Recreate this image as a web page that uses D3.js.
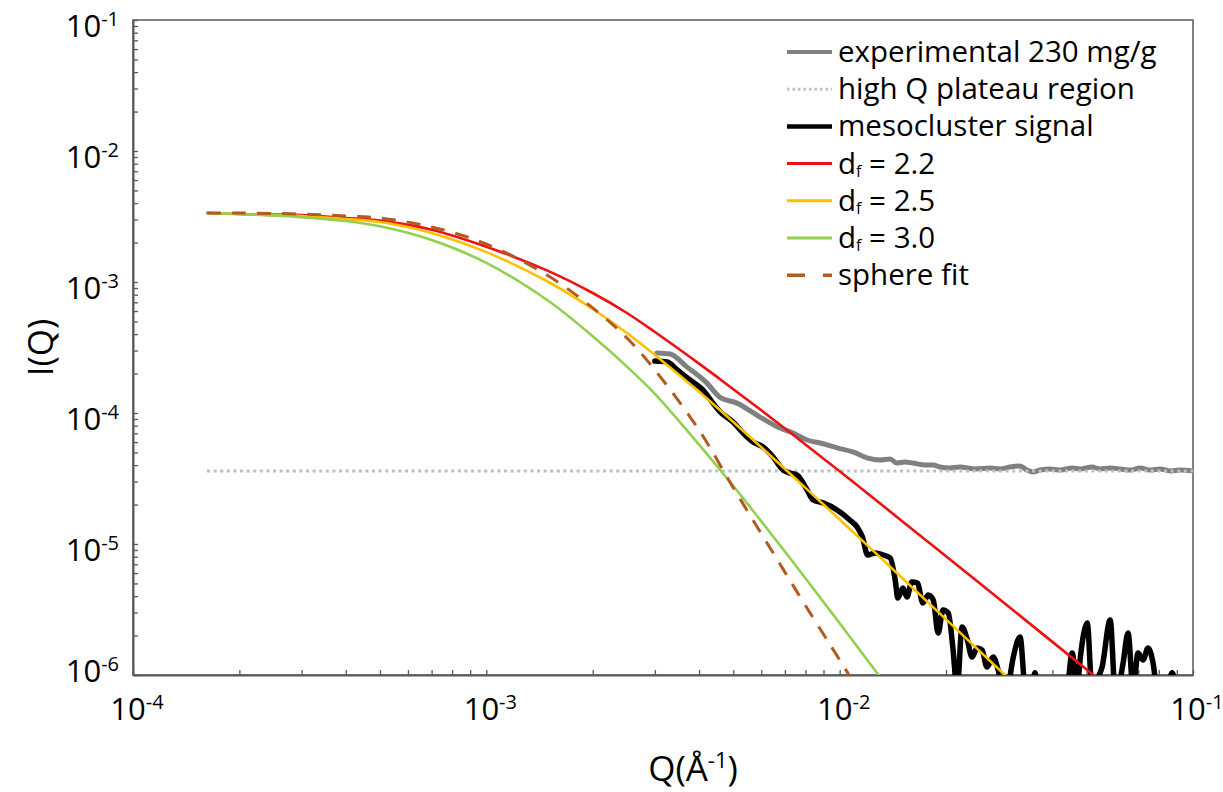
<!DOCTYPE html>
<html>
<head>
<meta charset="utf-8">
<script src="https://cdn.jsdelivr.net/npm/d3@7"></script>
<style>
    body { margin: 0; background: #fff; }
    svg { font-family: "Open Sans", Lato, sans-serif; }
</style>
</head>
<body>
<svg id="chart" width="1223" height="792"></svg>
<script>
/*************************************** data ***************************/
// [Q (1/A), I(Q)]
let experimental = [
    [3.04e-3, 2.87e-4], [3.31e-3, 2.82e-4], [3.70e-3, 2.24e-4], [4.21e-3, 1.69e-4], [4.58e-3, 1.32e-4],
    [5.12e-3, 1.19e-4], [5.95e-3, 9.31e-5], [6.78e-3, 7.67e-5], [7.38e-3, 7.03e-5], [8.09e-3, 6.22e-5],
    [8.80e-3, 5.90e-5], [9.84e-3, 5.41e-5], [1.09e-2, 5.04e-5], [1.20e-2, 4.53e-5], [1.30e-2, 4.38e-5],
    [1.39e-2, 4.46e-5], [1.45e-2, 4.15e-5], [1.53e-2, 4.23e-5], [1.61e-2, 4.15e-5], [1.75e-2, 4.01e-5],
    [1.84e-2, 4.01e-5], [1.92e-2, 3.87e-5], [2.05e-2, 3.80e-5], [2.19e-2, 3.87e-5], [2.42e-2, 3.74e-5],
    [2.67e-2, 3.80e-5], [2.84e-2, 3.74e-5], [3.04e-2, 3.87e-5], [3.24e-2, 3.94e-5], [3.39e-2, 3.67e-5],
    [3.53e-2, 3.55e-5], [3.69e-2, 3.67e-5], [3.94e-2, 3.74e-5], [4.21e-2, 3.67e-5], [4.55e-2, 3.80e-5],
    [4.79e-2, 3.74e-5], [5.18e-2, 3.87e-5], [5.46e-2, 3.74e-5], [5.83e-2, 3.80e-5], [6.22e-2, 3.74e-5],
    [6.64e-2, 3.67e-5], [7.09e-2, 3.80e-5], [7.57e-2, 3.67e-5], [8.07e-2, 3.74e-5], [8.63e-2, 3.61e-5],
    [9.19e-2, 3.67e-5], [1.00e-1, 3.61e-5]
]
let plateau = [[1.62e-4, 3.6e-5], [1.0e-1, 3.6e-5]]
let mesocluster = [
    [3.00e-3, 2.49e-4], [3.25e-3, 2.45e-4], [3.47e-3, 2.13e-4], [3.77e-3, 1.79e-4], [4.10e-3, 1.50e-4],
    [4.38e-3, 1.19e-4], [4.59e-3, 1.02e-4], [4.99e-3, 8.54e-5], [5.33e-3, 7.04e-5], [5.69e-3, 6.01e-5],
    [6.07e-3, 5.50e-5], [6.48e-3, 4.61e-5], [6.92e-3, 3.67e-5], [7.24e-3, 3.48e-5], [7.58e-3, 3.36e-5],
    [8.09e-3, 2.58e-5], [8.41e-3, 2.17e-5], [8.97e-3, 2.06e-5], [9.83e-3, 1.82e-5], [1.07e-2, 1.52e-5],
    [1.12e-2, 1.35e-5], [1.16e-2, 1.13e-5], [1.20e-2, 8.24e-6], [1.26e-2, 8.54e-6], [1.33e-2, 8.24e-6],
    [1.39e-2, 7.82e-6], [1.44e-2, 5.04e-6], [1.46e-2, 3.87e-6], [1.51e-2, 4.61e-6], [1.55e-2, 3.94e-6],
    [1.60e-2, 5.13e-6], [1.66e-2, 5.04e-6], [1.72e-2, 3.55e-6], [1.78e-2, 4.08e-6], [1.84e-2, 3.74e-6],
    [1.90e-2, 2.09e-6], [1.96e-2, 3.13e-6], [2.03e-2, 2.97e-6], [2.09e-2, 1.64e-6], [2.15e-2, 7.7e-7],
    [2.22e-2, 2.32e-6], [2.29e-2, 1.92e-6], [2.37e-2, 1.37e-6], [2.45e-2, 1.61e-6], [2.53e-2, 1.55e-6],
    [2.61e-2, 1.15e-6], [2.72e-2, 1.37e-6], [2.81e-2, 1.09e-6], [2.90e-2, 7.7e-7], [3.00e-2, 8.5e-7],
    [3.10e-2, 1.37e-6], [3.24e-2, 1.95e-6], [3.35e-2, 7.7e-7], [3.46e-2, 6.5e-7], [3.57e-2, 1.04e-6],
    [3.69e-2, 6.5e-7], [3.94e-2, 5.4e-7], [4.21e-2, 6.5e-7], [4.40e-2, 7.7e-7], [4.55e-2, 1.47e-6],
    [4.70e-2, 7.7e-7], [4.79e-2, 1.30e-6], [5.02e-2, 2.49e-6], [5.18e-2, 7.7e-7], [5.35e-2, 9.2e-7],
    [5.53e-2, 1.15e-6], [5.83e-2, 2.63e-6], [6.02e-2, 7.7e-7], [6.22e-2, 9.2e-7], [6.34e-2, 1.23e-6],
    [6.55e-2, 2.09e-6], [6.77e-2, 7.7e-7], [6.99e-2, 1.47e-6], [7.22e-2, 1.30e-6], [7.46e-2, 1.61e-6],
    [7.71e-2, 1.23e-6], [7.91e-2, 7.7e-7], [8.34e-2, 6.5e-7], [8.73e-2, 1.04e-6], [9.07e-2, 6.5e-7]
]
let fractal22 = [
    [1.62e-4, 3.36e-3], [2e-4, 3.30e-3], [3e-4, 3.24e-3], [4e-4, 3.08e-3], [5e-4, 2.94e-3], [7e-4, 2.51e-3],
    [1e-3, 1.86e-3], [1.5e-3, 1.21e-3], [2e-3, 8.24e-4], [2.5e-3, 5.80e-4], [3e-3, 4.15e-4], [4e-3, 2.38e-4],
    [5e-3, 1.52e-4], [6e-3, 1.05e-4], [7e-3, 7.62e-5], [8e-3, 5.75e-5], [1e-2, 3.59e-5], [1.2e-2, 2.43e-5],
    [1.5e-2, 1.50e-5], [2e-2, 8.07e-6], [3e-2, 3.35e-6], [4e-2, 1.79e-6], [5e-2, 1.10e-6], [6e-2, 7.38e-7]
]
let fractal25 = [
    [1.62e-4, 3.36e-3], [2e-4, 3.30e-3], [3e-4, 3.19e-3], [4e-4, 3.03e-3], [5e-4, 2.87e-3], [7e-4, 2.37e-3],
    [1e-3, 1.69e-3], [1.5e-3, 1.00e-3], [2e-3, 6.22e-4], [2.5e-3, 4.08e-4], [3e-3, 2.77e-4], [4e-3, 1.45e-4],
    [5e-3, 8.53e-5], [6e-3, 5.47e-5], [7e-3, 3.74e-5], [8e-3, 2.68e-5], [1e-2, 1.54e-5], [1.2e-2, 9.71e-6],
    [1.5e-2, 5.52e-6], [2e-2, 2.66e-6], [3e-2, 9.46e-7]
]
let fractal30 = [
    [1.62e-4, 3.36e-3], [2e-4, 3.30e-3], [3e-4, 3.13e-3], [4e-4, 2.92e-3], [5e-4, 2.66e-3], [7e-4, 2.09e-3],
    [1e-3, 1.40e-3], [1.5e-3, 7.16e-4], [2e-3, 3.85e-4], [2.5e-3, 2.26e-4], [3e-3, 1.40e-4], [4e-3, 5.73e-5],
    [5e-3, 2.77e-5], [6e-3, 1.49e-5], [7e-3, 8.75e-6], [8e-3, 5.48e-6], [1e-2, 2.48e-6], [1.2e-2, 1.29e-6],
    [1.3e-2, 9.66e-7]
]
let sphereFit = [
    [1.62e-4, 3.36e-3], [2e-4, 3.36e-3], [3e-4, 3.30e-3], [4e-4, 3.19e-3], [5e-4, 3.08e-3], [7e-4, 2.63e-3],
    [1e-3, 1.95e-3], [1.5e-3, 1.11e-3], [2e-3, 6.34e-4], [2.5e-3, 3.74e-4], [3e-3, 2.13e-4], [4e-3, 7.41e-5],
    [5e-3, 2.69e-5], [6e-3, 1.20e-5], [7e-3, 6.10e-6], [8e-3, 3.39e-6], [9.4e-3, 1.70e-6], [1.08e-2, 9.33e-7]
]
let xDecades = [-4, -3, -2, -1]
let yDecades = [-6, -5, -4, -3, -2, -1]

/*************************************** series styles ***************************/
let seriesList = [
    { name: "experimental 230 mg/g", data: experimental, color: "#808080", width: 5, legendW: 4, dash: null, curve: d3.curveMonotoneX },
    { name: "high Q plateau region", data: plateau, color: "#bfbfbf", width: 3, legendW: 3, dash: "3,3.6", legendDash: "2.5,3", curve: d3.curveLinear },
    { name: "mesocluster signal", data: mesocluster, color: "#000000", width: 5.5, legendW: 4.5, dash: null, curve: d3.curveMonotoneX },
    { name: "2.2", data: fractal22, color: "#ee1111", width: 2.6, legendW: 3, dash: null, curve: d3.curveCatmullRom, sub: true },
    { name: "2.5", data: fractal25, color: "#ffc000", width: 2.6, legendW: 3, dash: null, curve: d3.curveCatmullRom, sub: true },
    { name: "3.0", data: fractal30, color: "#92d050", width: 2.6, legendW: 3, dash: null, curve: d3.curveCatmullRom, sub: true },
    { name: "sphere fit", data: sphereFit, color: "#b35a1f", width: 3, legendW: 3.5, dash: "14,11", legendDash: "18,18", curve: d3.curveCatmullRom }
]

const axisColor = "#595959"
const margin = { top: 20, right: 30, bottom: 117, left: 133 }
const svgW = 1223, svgH = 792

const svg = d3.select("#chart")

let xScale = d3.scaleLog()
    .domain([1e-4, 1e-1])
    .range([margin.left, svgW - margin.right])
let yScale = d3.scaleLog()
    .domain([1e-6, 1e-1])
    .range([svgH - margin.bottom, margin.top])

function minorTicks(decades) {
    let t = []
    for (let i = 0; i < decades.length - 1; i++) {
        for (let k = 1; k < 10; k++) t.push(k * Math.pow(10, decades[i]))
    }
    t.push(Math.pow(10, decades[decades.length - 1]))
    return t
}

// "10" with a raised exponent
function powLabel(g, exp, x, y, anchor, big, small, raise) {
    let t = g.append("text")
        .attr("x", x)
        .attr("y", y)
        .attr("text-anchor", anchor)
        .attr("font-size", big)
        .attr("fill", "#000")
    t.append("tspan").text("10")
    t.append("tspan").attr("dy", -raise).attr("font-size", small).text(exp)
}

/*************************************** frame and axes ***************************/
const x0 = xScale.range()[0], x1 = xScale.range()[1]
const y0 = yScale.range()[0], y1 = yScale.range()[1]

svg.append("defs").append("clipPath").attr("id", "plotClip")
    .append("rect")
    .attr("x", x0).attr("y", y1)
    .attr("width", x1 - x0).attr("height", y0 - y1)

svg.append("rect")
    .attr("x", x0).attr("y", y1)
    .attr("width", x1 - x0).attr("height", y0 - y1)
    .attr("fill", "none")
    .attr("stroke", axisColor)
    .attr("stroke-width", 1.5)

svg.append("g")
    .attr("transform", "translate(0," + y0 + ")")
    .call(d3.axisBottom(xScale).tickValues(minorTicks(xDecades)).tickSizeInner(-5).tickSizeOuter(0).tickFormat(""))
svg.append("g")
    .attr("transform", "translate(" + x0 + ",0)")
    .call(d3.axisLeft(yScale).tickValues(minorTicks(yDecades)).tickSizeInner(-5).tickSizeOuter(0).tickFormat(""))
svg.selectAll(".domain").attr("stroke", axisColor).attr("stroke-width", 2)
svg.selectAll(".tick line").attr("stroke", axisColor).attr("stroke-width", 1.3)

let labelG = svg.append("g")
xDecades.forEach(d => {
    powLabel(labelG, String(d), xScale(Math.pow(10, d)) + 4, y0 + 45, "middle", 31, 20, 11)
})
yDecades.forEach(d => {
    // the bottom label sits a little higher, as in the figure
    let dy = d === yDecades[0] ? 7 : 17
    powLabel(labelG, String(d), x0 - 14, yScale(Math.pow(10, d)) + dy, "end", 31, 20, 11)
})

// axis titles
svg.append("text")
    .attr("transform", "translate(" + 53 + "," + ((y0 + y1) / 2) + ") rotate(-90)")
    .attr("text-anchor", "middle")
    .attr("font-size", 35)
    .text("I(Q)")

let xt = svg.append("text")
    .attr("x", 693)
    .attr("y", 781)
    .attr("text-anchor", "middle")
    .attr("font-size", 35)
xt.append("tspan").text("Q(Å")
xt.append("tspan").attr("dy", -13).attr("font-size", 22).text("-1")
xt.append("tspan").attr("dy", 13).text(")")

/*************************************** curves ***************************/
let plotG = svg.append("g").attr("clip-path", "url(#plotClip)")

seriesList.forEach(s => {
    let line = d3.line()
        .x(d => xScale(d[0]))
        .y(d => yScale(d[1]))
        .curve(s.curve)
    plotG.append("path")
        .datum(s.data)
        .attr("d", line)
        .attr("fill", "none")
        .attr("stroke", s.color)
        .attr("stroke-width", s.width)
        .attr("stroke-linejoin", "round")
        .attr("stroke-linecap", s.dash ? "butt" : "round")
        .attr("stroke-dasharray", s.dash)
})

/*************************************** legend ***************************/
let legendG = svg.append("g").attr("transform", "translate(787,52)")
seriesList.forEach((s, i) => {
    let row = legendG.append("g").attr("transform", "translate(0," + (i * 37.2) + ")")
    row.append("line")
        .attr("x1", 0).attr("x2", 45)
        .attr("y1", 0).attr("y2", 0)
        .attr("stroke", s.color)
        .attr("stroke-width", s.legendW)
        .attr("stroke-dasharray", s.legendDash || null)
    let t = row.append("text")
        .attr("x", 51)
        .attr("y", 10)
        .attr("font-size", 29.5)
        .attr("fill", "#000")
    if (s.sub) {
        t.append("tspan").text("d")
        t.append("tspan").attr("dy", 3).attr("font-size", 16).text("f")
        t.append("tspan").attr("dy", -3).text(" = " + s.name)
    } else {
        t.text(s.name)
    }
})
</script>
</body>
</html>
